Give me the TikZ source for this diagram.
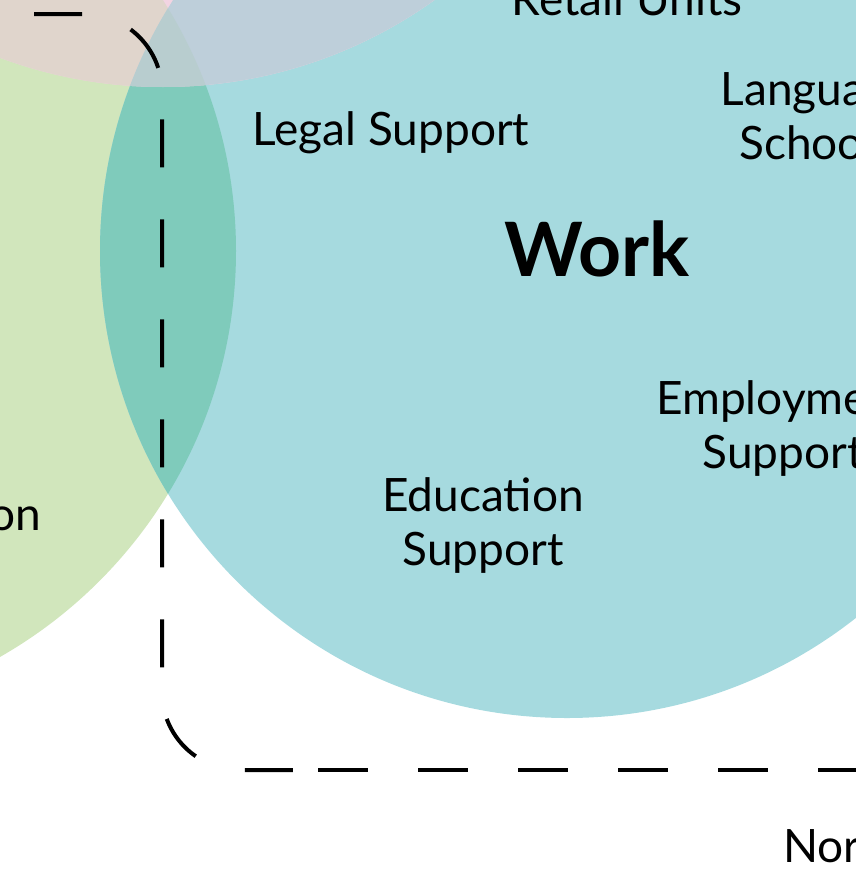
\documentclass[tikz,border=0pt]{standalone}
\usepackage{fontspec}
\setmainfont{Lato}
\usepackage{xcolor}
\usetikzlibrary{positioning}
\definecolor{WorkBlue}{HTML}{A6DADF}
\definecolor{HomeGreen}{HTML}{D1E6BC}
\definecolor{TopPink}{HTML}{F2D4E2}
\definecolor{GreenWork}{HTML}{7FCBBB}
\definecolor{PinkGreen}{HTML}{E0D5CC}
\definecolor{PinkWork}{HTML}{BECFDA}
\definecolor{AllThree}{HTML}{B8CDCF}

\tikzset{
	item/.style={font=\fontsize{46}{54}\selectfont, text=black, inner sep=0pt, align=center},
	title/.style={font=\fontsize{75}{80}\selectfont\bfseries, text=black, inner sep=0pt},
	border/.style={line width=4pt, black}
}

\begin{document}
\begin{tikzpicture}[x=1pt, y=-1pt]
	\useasboundingbox (0,0) rectangle (856,878);
	\clip (0,0) rectangle (856,878);
	
	\coordinate (G) at (-231,251);
	\coordinate (W) at (567,251);
	\coordinate (T) at (163,-380);
	
	% circles
	\fill[HomeGreen] (G) circle (467);
	\fill[WorkBlue] (W) circle (467);
	\fill[TopPink] (T) circle (467);
	
	% overlaps
	\begin{scope}
		\clip (G) circle (467);
		\fill[GreenWork] (W) circle (467);
	\end{scope}
	\begin{scope}
		\clip (T) circle (467);
		\fill[PinkGreen] (G) circle (467);
		\fill[PinkWork] (W) circle (467);
		\clip (G) circle (467);
		\fill[AllThree] (W) circle (467);
	\end{scope}
	
	% dashed border
	\draw[border, dash pattern=on 48pt off 52pt, dash phase=46pt, rounded corners=78pt]
		(-20,14) -- (162,14) -- (162,770) -- (299,770);
	\draw[border, dash pattern=on 50pt off 50pt] (318,770) -- (900,770);
	
	% base = last line for two-line items
	\node[item, anchor=base] (retail) at (627,15) {Retail Units};
	\node[item, anchor=base] (legal) at (391,145) {Legal Support};
	\node[item, anchor=base] (language) at (817,159) {Language\\Schools};
	\node[title, anchor=base] (work) at (597,276) {Work};
	\node[item, anchor=base] (employment) at (783,468) {Employment\\Support};
	\node[item, anchor=base] (education) at (483,565) {Education\\Support};
	\node[item, anchor=base east] (leftword) at (41,530) {on};
	\node[item, anchor=base west] (bottomword) at (783,862) {Nor};
\end{tikzpicture}
\end{document}
